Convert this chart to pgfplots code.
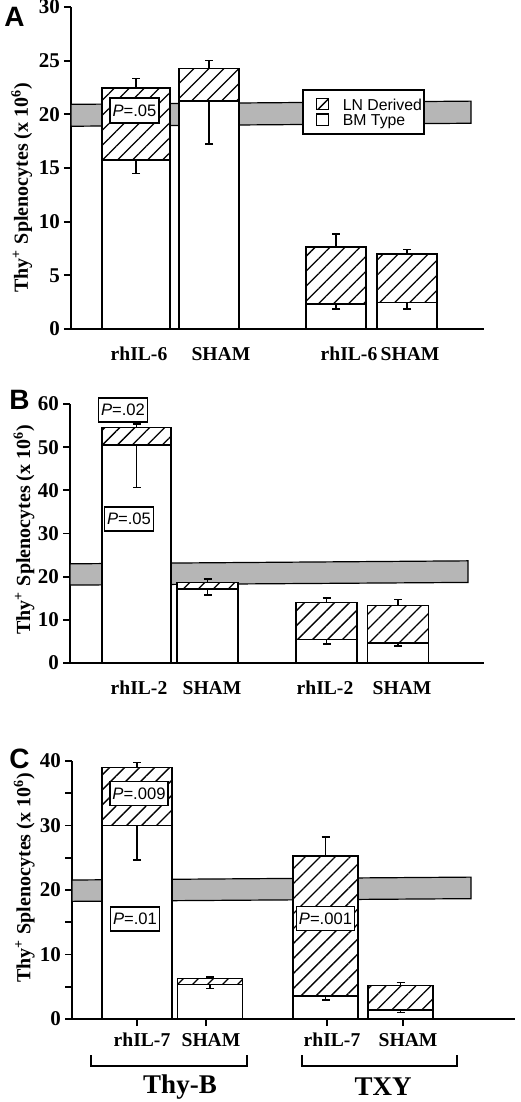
\documentclass[border=0pt]{standalone}
\usepackage{pgfplots}
\pgfplotsset{compat=1.18}
\usepackage{fontspec}
\setmainfont{Liberation Serif}
\newfontfamily\helv{Liberation Sans}
\usetikzlibrary{patterns.meta}

\definecolor{bandgray}{RGB}{182,182,182}

\tikzset{
  hatch/.style={draw=black, line width=0.8pt, fill=white,
    postaction={pattern={Lines[angle=45,distance=5.3pt,line width=0.65pt]}}},
  bmtype/.style={draw=black, line width=0.8pt, fill=white},
  pbox/.style={draw=black, line width=0.8pt, fill=white,
    font=\helv\fontsize{8.3}{9}\selectfont, inner xsep=1.2pt, inner ysep=0pt, minimum height=12pt},
  grplab/.style={font=\bfseries\fontsize{13.5}{15}\selectfont},
  panel/.style={font=\helv\bfseries\fontsize{14}{16}\selectfont},
}

\pgfplotsset{
  panelaxis/.style={
    scale only axis,
    axis lines=left,
    axis line style={-, line width=0.9pt},
    clip=false,
    tick align=outside,
    major tick length=3.5pt,
    minor tick length=3.5pt,
    tick style={black, line width=0.9pt},
    /pgf/number format/assume math mode=true,
    yticklabel style={font=\bfseries\fontsize{10.5}{12}\selectfont, xshift=1.5pt},
    xticklabel style={font=\bfseries\fontsize{9.8}{11}\selectfont},
    ylabel={Thy\textsuperscript{+} Splenocytes (x 10\textsuperscript{6})},
    ylabel style={font=\bfseries\fontsize{10}{12}\selectfont, anchor=center},
    ymin=0,
  },
  errup/.style={error bars/.cd, y dir=plus, y explicit,
    error bar style={line width=0.8pt, black},
    error mark options={rotate=90, line width=0.8pt, mark size=2pt, black}},
  errdn/.style={error bars/.cd, y dir=minus, y explicit,
    error bar style={line width=0.8pt, black},
    error mark options={rotate=90, line width=0.8pt, mark size=2pt, black}},
}

\begin{document}
\begin{tikzpicture}
\useasboundingbox (0,0) rectangle (260pt,-551pt);

\node[panel] at (7.25pt,-8.25pt) {A};
\node[panel] at (9.75pt,-200pt) {B};
\node[panel] at (9.75pt,-379.5pt) {C};

% ---------- A ----------
\begin{axis}[panelaxis,
    at={(35.5pt,-164.5pt)}, anchor=south west,
    width=206.5pt, height=161pt,
    xmin=71, xmax=484, ymax=30,
    ytick={0,5,...,30},
    xtick={139,221,349,410},
    xticklabels={rhIL-6,SHAM,rhIL-6,SHAM},
    xtick style={draw=none},
    xticklabel style={yshift=-2pt},
    ylabel style={at={(axis description cs:-0.119,0.439)}},
]
\addplot[fill=bandgray, draw=black, line width=0.6pt]
  coordinates {(71,18.89) (471,19.17) (471,21.23) (71,20.93)} -- cycle;
\addplot[ybar, bar shift=0pt, bar width=68, hatch, errup]
  coordinates {(136,22.47) +- (0,0.86)};
\addplot[ybar, bar shift=0pt, bar width=60, hatch, errup]
  coordinates {(209,24.26) +- (0,0.74) (336,7.65) +- (0,1.18) (407,6.97) +- (0,0.44)};
\addplot[ybar, bar shift=0pt, bar width=68, bmtype, errdn]
  coordinates {(136,15.74) +- (0,1.24)};
\addplot[ybar, bar shift=0pt, bar width=60, bmtype, errdn]
  coordinates {(209,21.26) +- (0,4.04) (336,2.31) +- (0,0.43) (407,2.47) +- (0,0.62)};
% legend box
\draw[line width=0.8pt, fill=white] (axis cs:303,22.29) rectangle (axis cs:424,18.18);
\draw[hatch, line width=0.7pt] (axis cs:316.5,21.45) rectangle (axis cs:328.5,20.44);
\draw[bmtype, line width=0.7pt] (axis cs:316.5,20.03) rectangle (axis cs:328.5,18.95);
\node[anchor=base west, inner sep=0pt, font=\helv\fontsize{7.9}{8}\selectfont] at (axis cs:342.5,20.34) {LN Derived};
\node[anchor=base west, inner sep=0pt, font=\helv\fontsize{7.9}{8}\selectfont] at (axis cs:342.5,18.95) {BM Type};
\node[pbox, minimum height=12.5pt] at (axis cs:134.5,20.33) {\textit{P}=.05};
\end{axis}

% ---------- B ----------
\begin{axis}[panelaxis,
    at={(35pt,-331.5pt)}, anchor=south west,
    width=207pt, height=129.5pt,
    xmin=70, xmax=484, ymax=60,
    ytick={0,10,...,60},
    xtick={139,212,325,402},
    xticklabels={rhIL-2,SHAM,rhIL-2,SHAM},
    xtick style={draw=none},
    xticklabel style={yshift=-2pt},
    ylabel style={at={(axis description cs:-0.111,0.515)}},
]
\addplot[fill=bandgray, draw=black, line width=0.6pt]
  coordinates {(70,18.05) (468,18.67) (468,23.67) (70,22.98)} -- cycle;
\addplot[ybar, bar shift=0pt, bar width=69, hatch, errup]
  coordinates {(136.5,54.52) +- (0,0.85)};
\addplot[ybar, bar shift=0pt, bar width=61, hatch, errup]
  coordinates {(207.5,18.66) +- (0,0.77) (326.5,14.04) +- (0,1.08) (398,13.34) +- (0,1.39)};
\addplot[ybar, bar shift=0pt, bar width=69, bmtype, errdn]
  coordinates {(136.5,50.51) +- (0,9.87)};
\addplot[ybar, bar shift=0pt, bar width=61, bmtype, errdn]
  coordinates {(207.5,17.12) +- (0,1.31) (326.5,5.40) +- (0,0.93) (398,4.63) +- (0,0.62)};
\node[pbox] at (axis cs:123,58.6) {\textit{P}=.02};
\node[pbox] at (axis cs:129,33.4) {\textit{P}=.05};
\end{axis}

% ---------- C ----------
\begin{axis}[panelaxis,
    at={(36pt,-509.5pt)}, anchor=south west,
    width=221.5pt, height=129pt,
    xmin=72, xmax=515, ymax=40,
    ytick={0,10,...,40},
    minor ytick={5,15,25,35},
    xtick={137,206,327,403},
    xticklabels={rhIL-7,SHAM,rhIL-7,SHAM},
    xticklabel style={xshift=2.5pt},
    ylabel style={at={(axis description cs:-0.108,0.547)}},
]
\addplot[fill=bandgray, draw=black, line width=0.6pt]
  coordinates {(72,18.24) (471,18.66) (471,22.0) (72,21.55)} -- cycle;
\addplot[ybar, bar shift=0pt, bar width=70, hatch, errup]
  coordinates {(137,38.97) +- (0,0.82)};
\addplot[ybar, bar shift=0pt, bar width=65, hatch, errup]
  coordinates {(210,6.30) +- (0,0.26) (325.5,25.27) +- (0,2.95) (400.5,5.17) +- (0,0.46)};
\addplot[ybar, bar shift=0pt, bar width=70, bmtype, errdn]
  coordinates {(137,30.03) +- (0,5.38)};
\addplot[ybar, bar shift=0pt, bar width=65, bmtype, errdn]
  coordinates {(210,5.37) +- (0,0.62) (325.5,3.57) +- (0,0.62) (400.5,1.40) +- (0,0.37)};
\node[pbox] at (axis cs:139,34.96) {\textit{P}=.009};
\node[pbox] at (axis cs:135,15.5) {\textit{P}=.01};
\node[pbox] at (axis cs:325.5,15.6) {\textit{P}=.001};
\draw[line width=1pt] (axis cs:91,-5.58) -- (axis cs:91,-7.29) -- (axis cs:247,-7.29) -- (axis cs:247,-5.58);
\draw[line width=1pt] (axis cs:302,-5.58) -- (axis cs:302,-7.29) -- (axis cs:457,-7.29) -- (axis cs:457,-5.58);
\node[grplab] at (axis cs:180,-10.54) {Thy-B};
\node[grplab] at (axis cs:383,-10.54) {TXY};
\end{axis}
\end{tikzpicture}
\end{document}
